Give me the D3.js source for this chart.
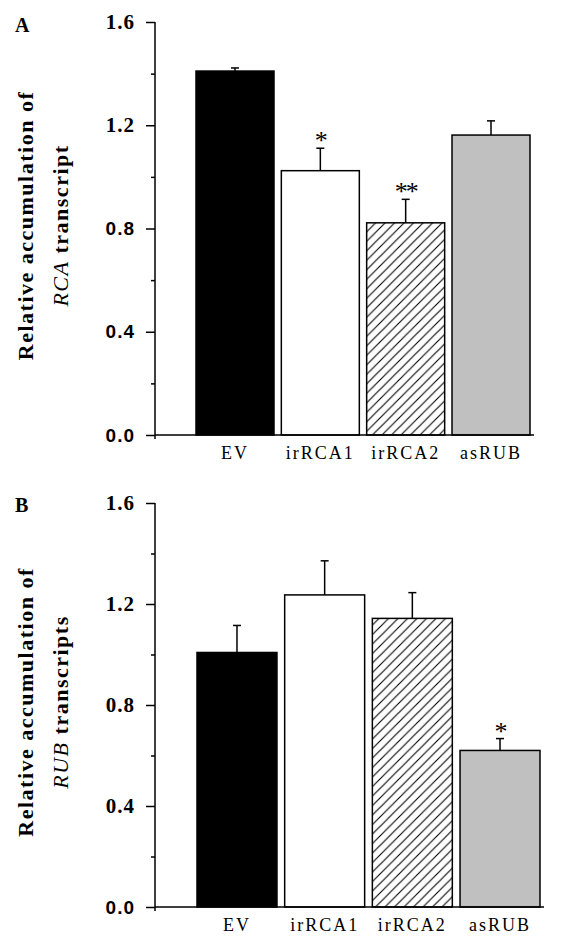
<!DOCTYPE html>
<html>
<head>
<meta charset="utf-8">
<script src="https://cdn.jsdelivr.net/npm/d3@7/dist/d3.min.js"></script>
<style>
  html, body { margin: 0; padding: 0; background: #fff; }
  svg { display: block; }
</style>
</head>
<body>
<script>
// ---- data ----
const categories = ["EV", "irRCA1", "irRCA2", "asRUB"];
const valuesA = [1.41, 1.024, 0.822, 1.162];
const errorsA = [0.012, 0.087, 0.091, 0.055];
const starsA = ["", "*", "**", ""];
const valuesB = [1.008, 1.236, 1.143, 0.62];
const errorsB = [0.107, 0.135, 0.102, 0.047];
const starsB = ["", "", "", "*"];
const yTicks = [0, 0.4, 0.8, 1.2, 1.6];
const yMinorTicks = [0.2, 0.6, 1.0, 1.4];
const yTickLabels = ["0.0", "0.4", "0.8", "1.2", "1.6"];
const titleLine1 = "Relative accumulation of";
const titleGeneA = "RCA";
const titleRestA = " transcript";
const titleGeneB = "RUB";
const titleRestB = " transcripts";

// ---- style ----
const fills = ["#000000", "#ffffff", "url(#hatch)", "#c0c0c0"];
const SERIF = "'Liberation Serif', 'Times New Roman', serif";
const SANS = "'Liberation Sans', Arial, sans-serif";

const W = 573, H = 943;
const svg = d3.select("body").append("svg").attr("width", W).attr("height", H);

const defs = svg.append("defs");
const hw = 9.5;
defs.append("pattern")
  .attr("id", "hatch").attr("patternUnits", "userSpaceOnUse")
  .attr("width", hw).attr("height", hw)
  .append("path")
  .attr("d", `M-1,1 l2,-2 M0,${hw} l${hw},${-hw} M${hw - 1},${hw + 1} l2,-2`)
  .attr("stroke", "#000").attr("stroke-width", 1.1).attr("fill", "none");

const panels = [
  { letter: "A", letterY: 32, top: 22, bottom: 435, x0: 196, x1: 530, pad: 0.086,
    values: valuesA, errors: errorsA, stars: starsA, gene: titleGeneA, rest: titleRestA,
    sansTicks: [0, 0.4, 0.8] },
  { letter: "B", letterY: 512, top: 503, bottom: 907, x0: 197, x1: 540, pad: 0.088,
    values: valuesB, errors: errorsB, stars: starsB, gene: titleGeneB, rest: titleRestB,
    sansTicks: [0] }
];

const axisX = 155;

panels.forEach(p => {
  const g = svg.append("g");
  const y = d3.scaleLinear().domain([0, 1.6]).range([p.bottom, p.top]);
  const x = d3.scaleBand().domain(categories).range([p.x0, p.x1])
    .paddingInner(p.pad).paddingOuter(0);

  // panel letter
  g.append("text").attr("x", 15).attr("y", p.letterY)
    .attr("font-family", SERIF).attr("font-weight", "bold").attr("font-size", 20)
    .text(p.letter);

  // y title
  const cy = (p.top + p.bottom) / 2 - 3;
  g.append("text")
    .attr("transform", `translate(33,${cy}) rotate(-90)`)
    .attr("text-anchor", "middle")
    .attr("font-family", SERIF).attr("font-weight", "bold").attr("font-size", 22)
    .attr("letter-spacing", 1.5)
    .text(titleLine1);
  const t2 = g.append("text")
    .attr("transform", `translate(68,${cy}) rotate(-90)`)
    .attr("text-anchor", "middle")
    .attr("font-family", SERIF).attr("font-size", 22)
    .attr("letter-spacing", 1.5);
  t2.append("tspan").attr("font-style", "italic").attr("font-weight", "normal").text(p.gene);
  t2.append("tspan").attr("font-weight", "bold").text(p.rest);

  // bars
  g.selectAll("rect.bar").data(categories).join("rect")
    .attr("class", "bar")
    .attr("x", d => x(d))
    .attr("width", x.bandwidth())
    .attr("y", (d, i) => y(p.values[i]))
    .attr("height", (d, i) => y(0) - y(p.values[i]))
    .attr("fill", (d, i) => fills[i])
    .attr("stroke", "#000").attr("stroke-width", 1.5);

  // error bars (upper only)
  const eg = g.append("g").attr("stroke", "#000").attr("stroke-width", 1.5);
  categories.forEach((c, i) => {
    const cx = x(c) + x.bandwidth() / 2;
    const yt = y(p.values[i] + p.errors[i]);
    eg.append("line").attr("x1", cx).attr("x2", cx)
      .attr("y1", y(p.values[i])).attr("y2", yt);
    eg.append("line").attr("x1", cx - 4).attr("x2", cx + 4)
      .attr("y1", yt).attr("y2", yt);
    if (p.stars[i]) {
      g.append("text").attr("x", cx).attr("y", yt + 1)
        .attr("text-anchor", "middle")
        .attr("font-family", SERIF).attr("font-size", 26)
        .attr("letter-spacing", -2)
        .text(p.stars[i]);
    }
  });

  // y axis - minor ticks
  const minor = g.append("g").attr("transform", `translate(${axisX},0)`)
    .call(d3.axisLeft(y).tickValues(yMinorTicks).tickSize(4).tickSizeOuter(0).tickFormat(""));
  minor.select(".domain").remove();
  minor.selectAll("line").attr("stroke-width", 1.5);

  // y axis - major ticks
  const major = g.append("g").attr("transform", `translate(${axisX},0)`)
    .call(d3.axisLeft(y).tickValues(yTicks).tickSize(9).tickSizeOuter(0).tickPadding(11)
      .tickFormat((d, i) => yTickLabels[i]));
  major.select(".domain").remove();
  major.selectAll("line").attr("stroke-width", 1.5);
  major.selectAll("text")
    .attr("fill", "#000")
    .attr("font-weight", "bold")
    .attr("font-family", d => p.sansTicks.includes(d) ? SANS : SERIF)
    .attr("font-size", d => p.sansTicks.includes(d) ? 19 : 21)
    .attr("letter-spacing", 1);

  // axis lines
  g.append("line").attr("x1", axisX).attr("x2", axisX)
    .attr("y1", y(1.6)).attr("y2", y(0) + 4)
    .attr("stroke", "#000").attr("stroke-width", 1.5);
  g.append("line").attr("x1", axisX).attr("x2", p.x1 + 4)
    .attr("y1", y(0)).attr("y2", y(0))
    .attr("stroke", "#000").attr("stroke-width", 1.5);

  // x labels
  const xa = g.append("g").attr("transform", `translate(0,${y(0)})`)
    .call(d3.axisBottom(x).tickSize(0).tickPadding(11));
  xa.select(".domain").remove();
  xa.selectAll("text")
    .attr("fill", "#000")
    .attr("font-family", SERIF).attr("font-size", 18)
    .attr("letter-spacing", 2);
});
</script>
</body>
</html>
